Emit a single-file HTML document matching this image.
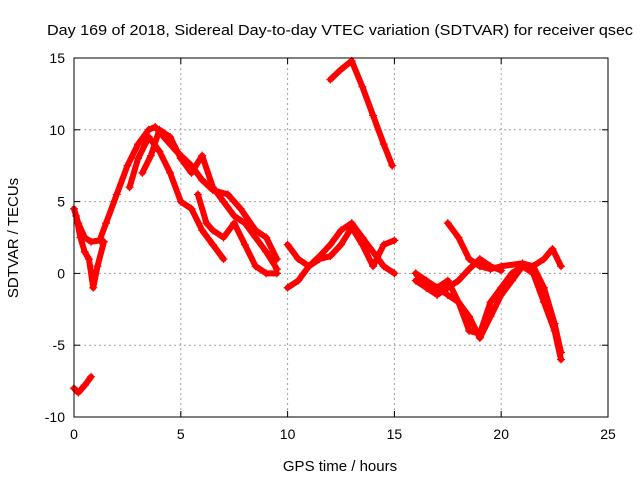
<!DOCTYPE html>
<html><head><meta charset="utf-8"><style>
body{margin:0;background:#fff}
svg{font-family:"Liberation Sans",sans-serif}
</style></head><body>
<svg id="c" width="640" height="480">
<text x="47" y="35" font-size="15" textLength="586" lengthAdjust="spacingAndGlyphs">Day 169 of 2018, Sidereal Day-to-day VTEC variation (SDTVAR) for receiver qsec</text>
<text x="340" y="471" font-size="15" text-anchor="middle">GPS time / hours</text>
<text transform="translate(18,238) rotate(-90)" font-size="15" text-anchor="middle">SDTVAR / TECUs</text>
<g id="grid"></g><g id="ticks"></g><g id="marks"></g>
<rect x="74" y="58" width="534" height="359" fill="none" stroke="#000" stroke-width="1"/>
</svg>
<script>
const xTicks=[0,5,10,15,20,25];
const yTicks=[-10,-5,0,5,10,15];
const trackA=[[0,4.5],[0.2,3.5],[0.5,2.5],[0.8,2.2],[1.2,2.3],[1.5,3.5],[2,5.5],[2.5,7.5],[3,9],[3.5,10],[3.8,10.2],[4.2,9.5],[4.8,8.5],[5.5,7.5],[6,6.5],[6.5,5.8],[7.2,5.5],[7.8,4.5],[8.5,3],[9,2.5],[9.5,1]];
const trackB=[[0.1,4],[0.3,2.5],[0.5,1.5],[0.7,1],[0.9,-1],[1.1,0.5],[1.4,2.2]];
const trackC=[[0,-8],[0.2,-8.3],[0.5,-7.8],[0.8,-7.2]];
const trackD=[[2.6,6],[3,8],[3.5,9.5],[4,8.5],[4.5,7],[5,5],[5.5,4.5],[6,3],[6.5,2],[7,1]];
const trackE=[[3.2,7],[3.6,8.2],[4,10],[4.5,9.5],[5,8],[5.5,7],[6,8.2],[6.5,6],[7,5],[7.5,4],[8,3.5],[8.5,2.5],[9,1.5],[9.5,0.3]];
const trackF=[[5.8,5.5],[6.2,3.5],[6.5,3],[7,2.5],[7.5,3.5],[8,2],[8.5,0.5],[9,0],[9.5,0]];
const trackG=[[10,-1],[10.5,-0.5],[11,0.5],[11.5,1.2],[12,2],[12.5,3],[13,3.5],[13.5,2.5],[14,1.5],[14.5,0.5],[15,0]];
const trackH=[[10,2],[10.5,1],[11,0.5],[11.5,1],[12,1.2],[12.5,2],[13,3.2],[13.5,2],[14,0.5],[14.5,2],[15,2.3]];
const trackI=[[12,13.5],[12.5,14.2],[13,14.8],[13.5,13],[14,11],[14.5,9],[14.9,7.5]];
const trackJ=[[17.5,3.5],[18,2.5],[18.5,1],[19,0.5],[19.5,0.3],[20,0.5],[21,0.7],[21.5,0.5],[22,1],[22.4,1.7],[22.8,0.5]];
const trackK=[[16,0],[16.5,-0.5],[17,-1],[17.5,-1.5],[18,-2],[18.5,-3],[19,-4.5],[19.5,-3],[20,-1.5],[20.5,-0.5],[21,0.5],[21.5,0],[22,-2],[22.5,-4],[22.8,-6]];
const trackL=[[16,-0.5],[16.5,-1],[17,-1],[17.5,-0.5],[18,-2],[18.5,-4],[19,-4.2],[19.5,-2],[20,-1],[20.5,0],[21,0.5],[21.5,0.5],[22,-1],[22.5,-3.5],[22.8,-5.5]];
const trackM=[[16,0],[16.5,-1],[17,-1.5],[17.5,-1],[18,-0.5],[18.5,0.3],[19,1],[19.5,0.5],[20,0.2]];
const tracks=[trackA,trackB,trackC,trackD,trackE,trackF,trackG,trackH,trackI,trackJ,trackK,trackL,trackM];
const X0=74,X1=608,Y0=417,Y1=58;
const sx=v=>X0+(v-0)/(25-0)*(X1-X0);
const sy=v=>Y0-(v+10)/(25)*(Y0-Y1);
const NS="http://www.w3.org/2000/svg";
const grid=document.getElementById('grid'),ticks=document.getElementById('ticks'),marks=document.getElementById('marks');
function mk(t,a,p){const e=document.createElementNS(NS,t);for(const k in a)e.setAttribute(k,a[k]);p.appendChild(e);return e;}
xTicks.forEach(t=>{const x=sx(t);
 if(t>0&&t<25){const g=mk('line',{x1:x,x2:x,y1:Y1,y2:Y0,stroke:'#a0a0a0','stroke-dasharray':'2,3'},grid);
 
 }
 const l=mk('text',{x:x,y:Y0+22,'font-size':14,'text-anchor':'middle'},ticks);l.textContent=t;
 
 
 mk('line',{x1:x,x2:x,y1:Y0,y2:Y0-6,stroke:'#000'},ticks);mk('line',{x1:x,x2:x,y1:Y1,y2:Y1+6,stroke:'#000'},ticks);});
yTicks.forEach(t=>{const y=sy(t);
 if(t>-10&&t<15){const g=mk('line',{x1:X0,x2:X1,y1:y,y2:y,stroke:'#a0a0a0','stroke-dasharray':'2,3'},grid);
 
 }
 const l=mk('text',{x:X0-9,y:y+5,'font-size':14,'text-anchor':'end'},ticks);l.textContent=t;
 
 
 mk('line',{x1:X0,x2:X0+6,y1:y,y2:y,stroke:'#000'},ticks);mk('line',{x1:X1,x2:X1-6,y1:y,y2:y,stroke:'#000'},ticks);});
tracks.forEach((tr,i)=>{
 const pl=mk('polyline',{points:tr.map(p=>sx(p[0])+','+sy(p[1])).join(' '),fill:'none',stroke:'#f00','stroke-width':6,'stroke-linejoin':'round','stroke-linecap':'round'},marks);
 
 
 tr.forEach(p=>{const x=sx(p[0]),y=sy(p[1]);
  const m=mk('path',{d:`M${x-4},${y}H${x+4}M${x},${y-4}V${y+4}`,stroke:'#f00','stroke-width':1.2},marks);
  
  });
});
</script>
</body></html>
